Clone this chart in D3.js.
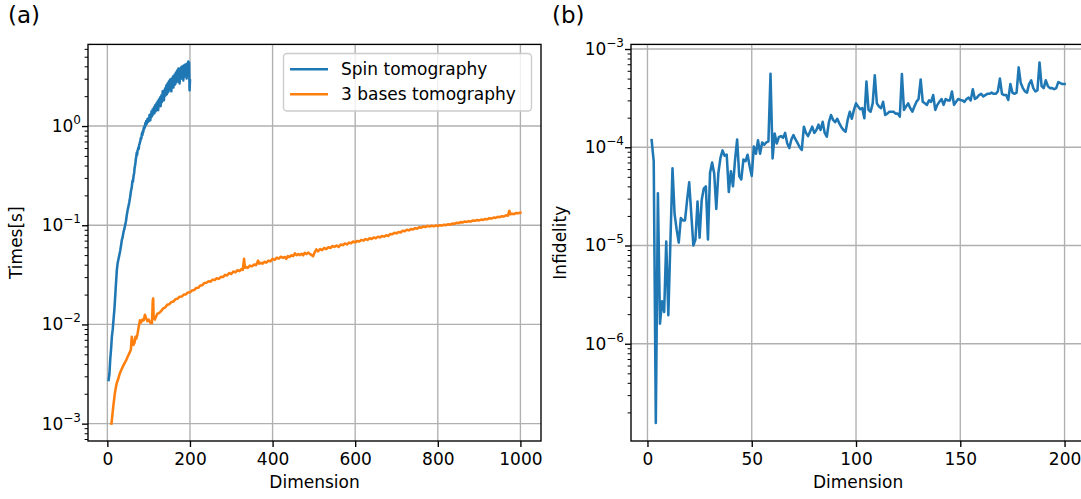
<!DOCTYPE html>
<html>
<head>
<meta charset="utf-8">
<script src="https://cdn.jsdelivr.net/npm/d3@7"></script>
<style>
  html, body { margin: 0; padding: 0; background: #fff; }
  svg { display: block; font-family: "DejaVu Sans", sans-serif; }
</style>
</head>
<body>
<svg id="chart" width="1081" height="499"></svg>
<script>
// ---------------- DATA ----------------
// Panel (a): Spin tomography — dimensions and log10(time in s)
const spinX = [...d3.range(3, 60, 2), ...d3.range(60, 201)];
const spinLog = [
-2.56,-2.50,-2.35,-2.25,-2.12,-2.05,-1.95,-1.85,-1.72,-1.58,
-1.45,-1.38,-1.34,-1.30,-1.26,-1.21,-1.15,-1.12,-1.07,-1.04,
-1.00,-0.96,-0.90,-0.85,-0.81,-0.77,-0.72,-0.66,-0.62,
-0.58,-0.55,-0.56,-0.52,-0.49,-0.47,-0.42,-0.40,-0.37,-0.33,
-0.31,-0.27,-0.29,-0.25,-0.24,-0.22,-0.23,-0.19,-0.18,-0.16,
-0.15,-0.12,-0.13,-0.10,-0.07,-0.09,-0.05,-0.06,-0.02,-0.03,
0.00,-0.01,0.03,0.01,0.05,0.02,0.03,0.07,0.04,0.06,
0.08,0.05,0.11,0.07,0.06,0.12,0.09,0.15,0.10,0.12,
0.17,0.12,0.14,0.19,0.13,0.18,0.21,0.15,0.17,0.23,
0.18,0.20,0.25,0.16,0.22,0.27,0.21,0.24,0.29,0.20,
0.26,0.31,0.24,0.29,0.35,0.27,0.32,0.26,0.36,0.30,
0.38,0.31,0.35,0.41,0.32,0.37,0.43,0.34,0.40,0.45,
0.36,0.42,0.47,0.38,0.44,0.35,0.48,0.41,0.46,0.50,
0.39,0.47,0.43,0.52,0.42,0.49,0.54,0.44,0.50,0.56,
0.45,0.52,0.58,0.47,0.54,0.43,0.57,0.51,0.59,0.48,
0.55,0.60,0.49,0.56,0.46,0.61,0.53,0.58,0.50,0.62,
0.54,0.59,0.48,0.63,0.56,0.60,0.65,0.52,0.64,0.36,
0.46];

// Panel (a): 3 bases tomography — dimensions and time in s
const basesX = [
10,14,18,22,26,30,34,38,42,46,
50,54,57,59,61,63,66,68,70,73,
76,79,82,85,88,91,94,97,100,104,
108,110,111,112,115,118,121,
125,130,135,140,145,150,155,160,165,170,
175,180,185,190,195,200,205,210,215,220,
225,230,235,240,245,250,255,260,265,270,
275,280,285,290,295,300,305,310,315,320,
325,328,331,333,336,340,345,350,355,360,
365,368,372,376,380,385,390,395,400,405,
410,415,420,425,430,433,437,441,445,450,
454,458,462,466,470,474,478,482,486,490,
494,498,502,506,510,515,520,525,530,535,
540,545,550,555,560,565,570,575,580,585,
590,595,600,605,610,615,620,625,630,635,
640,645,650,655,660,665,670,675,680,685,
690,695,700,705,710,715,720,725,730,735,
740,745,750,755,760,765,770,775,780,785,
790,795,800,805,810,815,820,825,830,835,
840,845,850,855,860,865,870,875,880,885,
890,895,900,905,910,915,920,925,930,935,
940,945,950,955,960,965,970,973,976,980,
985,990,995,1000];
const basesY = [
0.00100,0.00145,0.0020,0.0025,0.0028,0.0032,0.0035,0.0038,0.0041,0.0044,
0.0048,0.0052,0.0056,0.0075,0.0068,0.0062,0.0066,0.0075,0.0072,0.0080,
0.0095,0.0110,0.0105,0.0112,0.0110,0.0125,0.0115,0.0108,0.0112,0.0104,
0.0103,0.0175,0.0183,0.0120,0.0112,0.0120,0.0128,
0.0130,0.0136,0.0145,0.0148,0.0158,0.0160,0.0168,0.0170,0.0180,0.0182,
0.0190,0.0191,0.0200,0.0201,0.0210,0.0211,0.0220,0.0222,0.0233,0.0234,
0.0247,0.0249,0.0262,0.0263,0.0273,0.0270,0.0283,0.0280,0.0292,0.0288,
0.0302,0.0300,0.0316,0.0312,0.0330,0.0322,0.0342,0.0335,0.0352,0.0345,
0.0362,0.0355,0.0460,0.0372,0.0380,0.0372,0.0392,0.0385,0.0402,0.0395,
0.0440,0.0410,0.0418,0.0410,0.0428,0.0420,0.0440,0.0432,0.0458,0.0448,
0.0470,0.0460,0.0482,0.0470,0.0478,0.0458,0.0488,0.0478,0.0498,0.0488,
0.0520,0.0498,0.0512,0.0500,0.0515,0.0498,0.0528,0.0512,0.0530,0.0515,
0.0502,0.0488,0.0535,0.0570,0.0545,0.0575,0.0560,0.0590,0.0575,0.0600,
0.0590,0.0618,0.0605,0.0625,0.0605,0.0640,0.0630,0.0655,0.0640,0.0668,
0.0658,0.0685,0.0672,0.0695,0.0685,0.0712,0.0700,0.0725,0.0712,0.0738,
0.0728,0.0752,0.0740,0.0765,0.0755,0.0778,0.0768,0.0792,0.0780,0.0815,
0.0810,0.0838,0.0828,0.0855,0.0845,0.0880,0.0870,0.0900,0.0888,0.0915,
0.0905,0.0935,0.0925,0.0955,0.0945,0.0970,0.0958,0.0985,0.0972,0.0990,
0.0975,0.0995,0.0982,0.1002,0.0992,0.1012,0.1002,0.1025,0.1012,0.1040,
0.1030,0.1058,0.1048,0.1075,0.1065,0.1092,0.1080,0.1100,0.1090,0.1118,
0.1108,0.1130,0.1118,0.1140,0.1130,0.1158,0.1148,0.1178,0.1168,0.1195,
0.1185,0.1215,0.1205,0.1235,0.1225,0.1260,0.1250,0.1400,0.1290,0.1305,
0.1295,0.1330,0.1320,0.1340];

// Panel (b): Infidelity for dimensions 2..200
const infX = d3.range(2, 201);
const infY = [1.18e-4,7.2e-5,1.56e-7,3.4e-5,1.6e-6,2.7e-6,2.1e-6,1.1e-5,1.95e-6,1.1e-5,
6.1e-5,2.1e-5,1.45e-5,1.07e-5,1.9e-5,1.8e-5,1.8e-5,2.9e-5,4.4e-5,2.1e-5,
1.0e-5,1.15e-5,2.8e-5,1.2e-5,2.9e-5,3.8e-5,4.0e-5,1.15e-5,5.5e-5,7.0e-5,
5.4e-5,2.35e-5,5.5e-5,7.8e-5,9.3e-5,8.2e-5,8.4e-5,3.5e-5,5.7e-5,4.0e-5,
7.5e-5,1.2e-4,5.1e-5,4.7e-5,7.5e-5,7.2e-5,8.4e-5,6.4e-5,5.1e-5,1.02e-4,
8.6e-5,1.18e-4,8.6e-5,1.12e-4,1.06e-4,1.12e-4,1.15e-4,5.6e-4,7.7e-5,1.38e-4,
1.09e-4,1.27e-4,1.3e-4,1.25e-4,1.4e-4,1.1e-4,9.8e-5,1.2e-4,1.33e-4,1.2e-4,
1.1e-4,1.0e-4,9.4e-5,1.62e-4,1.4e-4,1.3e-4,1.45e-4,1.62e-4,1.4e-4,1.5e-4,
1.7e-4,1.5e-4,1.82e-4,1.4e-4,1.28e-4,1.8e-4,2.13e-4,1.9e-4,1.8e-4,1.95e-4,
1.75e-4,1.6e-4,1.5e-4,1.44e-4,1.9e-4,2.3e-4,1.95e-4,2.4e-4,2.8e-4,2.6e-4,
2.44e-4,2.5e-4,1.97e-4,4.66e-4,2.4e-4,2.3e-4,2.8e-4,5.4e-4,2.8e-4,2.6e-4,
2.5e-4,2.9e-4,2.13e-4,2.2e-4,2.3e-4,2.3e-4,2.3e-4,2.2e-4,2.2e-4,2.05e-4,
5.57e-4,2.4e-4,2.6e-4,2.8e-4,2.5e-4,2.3e-4,2.6e-4,2.9e-4,3.1e-4,4.9e-4,
2.9e-4,2.8e-4,2.7e-4,3.0e-4,2.9e-4,3.4e-4,2.4e-4,2.7e-4,2.9e-4,3.1e-4,
2.7e-4,3.1e-4,3.0e-4,3.0e-4,3.7e-4,2.7e-4,2.9e-4,3.1e-4,3.03e-4,3.0e-4,
2.9e-4,3.1e-4,3.2e-4,3.0e-4,3.9e-4,3.1e-4,3.2e-4,3.4e-4,3.5e-4,3.3e-4,
3.4e-4,3.5e-4,3.5e-4,3.6e-4,3.5e-4,3.5e-4,3.7e-4,5.0e-4,3.5e-4,3.4e-4,
3.4e-4,3.03e-4,4.4e-4,3.6e-4,3.5e-4,3.6e-4,6.5e-4,4.5e-4,4.0e-4,3.7e-4,
3.6e-4,4.4e-4,4.8e-4,4.0e-4,3.7e-4,3.8e-4,7.3e-4,4.2e-4,4.0e-4,4.8e-4,
4.2e-4,4.0e-4,4.0e-4,3.9e-4,4.0e-4,4.6e-4,4.5e-4,4.4e-4,4.4e-4];

// Tick labels
const xTicksA = [0, 200, 400, 600, 800, 1000];
const yExpA = [-3, -2, -1, 0];
const xTicksB = [0, 50, 100, 150, 200];
const yExpB = [-6, -5, -4, -3];
const seriesNames = ["Spin tomography", "3 bases tomography"];
const colors = ["#1f77b4", "#ff7f0e"];

// ---------------- DRAW ----------------
const svg = d3.select("#chart");
const FS = 17;

function minorTicks(scale) {
  const [lo, hi] = scale.domain();
  const out = [];
  for (let e = Math.floor(Math.log10(lo)) - 1; e <= Math.ceil(Math.log10(hi)); e++) {
    for (let m = 2; m <= 9; m++) {
      const v = m * Math.pow(10, e);
      if (v >= lo && v <= hi) out.push(v);
    }
  }
  return out;
}

function panel(cfg) {
  const g = svg.append("g");
  const x = d3.scaleLinear().domain(cfg.xdom).range([cfg.left, cfg.right]);
  const y = d3.scaleLog().domain(cfg.ydom).range([cfg.bottom, cfg.top]);
  const clipId = "clip" + cfg.id;
  svg.append("clipPath").attr("id", clipId).append("rect")
    .attr("x", cfg.left).attr("y", cfg.top)
    .attr("width", cfg.right - cfg.left).attr("height", cfg.bottom - cfg.top);

  // grid
  const grid = g.append("g").attr("clip-path", `url(#${clipId})`);
  grid.selectAll(".gx").data(cfg.xticks).join("line")
    .attr("x1", d => x(d)).attr("x2", d => x(d))
    .attr("y1", cfg.top).attr("y2", cfg.bottom)
    .attr("stroke", "#b0b0b0").attr("stroke-width", 1.36);
  grid.selectAll(".gy").data(cfg.yexp).join("line")
    .attr("x1", cfg.left).attr("x2", cfg.right)
    .attr("y1", d => y(Math.pow(10, d))).attr("y2", d => y(Math.pow(10, d)))
    .attr("stroke", "#b0b0b0").attr("stroke-width", 1.36);

  // lines
  const lines = g.append("g").attr("clip-path", `url(#${clipId})`);
  cfg.series.forEach(s => {
    const line = d3.line().x(d => x(d[0])).y(d => y(d[1]));
    lines.append("path").datum(s.data)
      .attr("d", line).attr("fill", "none")
      .attr("stroke", s.color).attr("stroke-width", 2.55)
      .attr("stroke-linejoin", "round").attr("stroke-linecap", "square");
  });

  // axes
  const xAxis = d3.axisBottom(x).tickValues(cfg.xticks).tickSize(6).tickSizeOuter(0).tickPadding(6)
    .tickFormat(d3.format("d"));
  const gx = g.append("g").attr("transform", `translate(0,${cfg.bottom})`).call(xAxis);
  gx.select(".domain").remove();
  gx.selectAll(".tick line").attr("stroke", "#000").attr("stroke-width", 1.36);
  gx.selectAll(".tick text").attr("font-size", FS).attr("fill", "#000")
    .attr("font-family", "DejaVu Sans");

  const yAxisMinor = d3.axisLeft(y).tickValues(minorTicks(y)).tickSize(3.4).tickFormat("").tickSizeOuter(0);
  const gym = g.append("g").attr("transform", `translate(${cfg.left},0)`).call(yAxisMinor);
  gym.select(".domain").remove();
  gym.selectAll(".tick line").attr("stroke", "#000").attr("stroke-width", 1.0);

  const yAxis = d3.axisLeft(y).tickValues(cfg.yexp.map(e => Math.pow(10, e))).tickSize(6).tickFormat("").tickSizeOuter(0);
  const gy = g.append("g").attr("transform", `translate(${cfg.left},0)`).call(yAxis);
  gy.select(".domain").remove();
  gy.selectAll(".tick line").attr("stroke", "#000").attr("stroke-width", 1.36);

  // y tick labels with superscripts
  cfg.yexp.forEach(e => {
    const t = g.append("text")
      .attr("x", cfg.left - 7).attr("y", y(Math.pow(10, e)) + 6)
      .attr("text-anchor", "end").attr("font-size", FS).attr("fill", "#000");
    t.append("tspan").text("10");
    t.append("tspan").attr("font-size", 12).attr("dy", -8)
      .text(e < 0 ? "\u2212" + Math.abs(e) : String(e));
  });

  // spines
  g.append("rect").attr("x", cfg.left).attr("y", cfg.top)
    .attr("width", cfg.right - cfg.left).attr("height", cfg.bottom - cfg.top)
    .attr("fill", "none").attr("stroke", "#000").attr("stroke-width", 1.36);

  // labels
  g.append("text").attr("x", (cfg.left + cfg.right) / 2).attr("y", 488)
    .attr("text-anchor", "middle").attr("font-size", FS).text("Dimension");
  g.append("text").attr("transform", `translate(${cfg.ylabX},${(cfg.top + cfg.bottom) / 2}) rotate(-90)`)
    .attr("text-anchor", "middle").attr("font-size", FS).text(cfg.ylabel);
  g.append("text").attr("x", cfg.titleX).attr("y", 23).attr("font-size", 23).text(cfg.title);

  return { g, x, y };
}

const pa = panel({
  id: "A", left: 88, right: 541, top: 44.4, bottom: 441,
  xdom: [-46.85, 1049.85], ydom: [Math.pow(10, -3.175), Math.pow(10, 0.823)],
  xticks: xTicksA, yexp: yExpA, ylabel: "Times[s]", ylabX: 22, title: "(a)", titleX: 8,
  series: [
    { color: colors[0], data: spinX.map((d, i) => [d, Math.pow(10, spinLog[i])]) },
    { color: colors[1], data: basesX.map((d, i) => [d, basesY[i]]) }
  ]
});

// Legend
const lg = pa.g.append("g");
lg.append("rect").attr("x", 283.5).attr("y", 53.5).attr("width", 248).attr("height", 57.5)
  .attr("rx", 3.5).attr("fill", "#fff").attr("fill-opacity", 0.8)
  .attr("stroke", "#cccccc").attr("stroke-width", 1.36);
seriesNames.forEach((name, i) => {
  const yy = 69.3 + i * 25;
  lg.append("line").attr("x1", 290).attr("x2", 328).attr("y1", yy).attr("y2", yy)
    .attr("stroke", colors[i]).attr("stroke-width", 2.55);
  lg.append("text").attr("x", 341).attr("y", yy + 6).attr("font-size", FS).text(name);
});

panel({
  id: "B", left: 631, right: 1085.2, top: 44.4, bottom: 441,
  xdom: [-7.9, 209.9], ydom: [Math.pow(10, -6.99), Math.pow(10, -2.953)],
  xticks: xTicksB, yexp: yExpB, ylabel: "Infidelity", ylabX: 566, title: "(b)", titleX: 552,
  series: [
    { color: colors[0], data: infX.map((d, i) => [d, infY[i]]) }
  ]
});
</script>
</body>
</html>
